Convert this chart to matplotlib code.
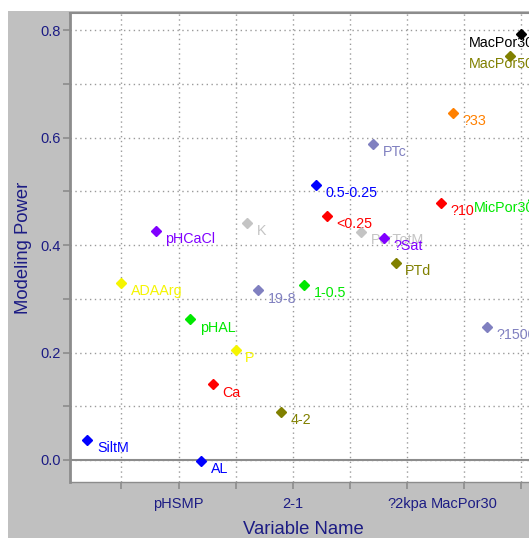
import matplotlib
matplotlib.use("Agg")
import matplotlib.pyplot as plt
from matplotlib.patches import Rectangle

plt.rcParams['font.family'] = ['Liberation Sans', 'DejaVu Sans']

# ---- data ----
names = ["SiltM", "ADAArg", "pHCaCl", "pHAL", "AL", "Ca", "P", "K", "19-8", "4-2",
         "1-0.5", "0.5-0.25", "<0.25", "PorTotM", "PTc", "?Sat", "PTd", "?10", "?33",
         "?1500", "MacPor50", "MacPor30", "MicPor30"]
var_index = [2, 5, 8, 11, 12, 13, 15, 16, 17, 19, 21, 22, 23, 26, 27, 28, 29, 33, 34,
             37, 39, 40, 41]
power = [0.037, 0.330, 0.427, 0.262, -0.001, 0.141, 0.205, 0.441, 0.316, 0.090,
         0.326, 0.512, 0.455, 0.425, 0.588, 0.414, 0.367, 0.479, 0.646,
         0.248, 0.752, 0.792, 0.484]
colors = ["#0000FF", "#F5F500", "#8000FF", "#00E800", "#0000FF", "#FF0000", "#F5F500",
          "#C4C4C4", "#8080C0", "#808000", "#00E800", "#0000FF", "#FF0000", "#C4C4C4",
          "#8080C0", "#8000FF", "#808000", "#FF0000", "#FF8000", "#8080C0", "#808000",
          "#000000", "#00E800"]
xtick_pos = [5, 10, 15, 20, 25, 30, 35, 40]
xtick_labels = ["", "pHSMP", "", "2-1", "", "?2kpa", "MacPor30", ""]
ytick_pos = [0.0, 0.1, 0.2, 0.3, 0.4, 0.5, 0.6, 0.7, 0.8]
ytick_labels = ["0.0", "", "0.2", "", "0.4", "", "0.6", "", "0.8"]
clamped = {"MacPor50", "MacPor30", "MicPor30"}

W, H = 529, 538
fig = plt.figure(figsize=(W / 100, H / 100), dpi=100, facecolor="white")
bg = Rectangle((8 / W, 0), 1, (H - 11) / H, transform=fig.transFigure,
               facecolor="#C0C0C0", edgecolor="none", zorder=-10)
fig.patches.append(bg)

ax = fig.add_axes([70 / W, 56 / H, (536 - 70) / W, (482 - 13) / H])
ax.set_zorder(1)
ax.set_facecolor("white")
ax.set_xlim(0.5, 41.3)
ax.set_ylim(-0.041, 0.832)

navy = "#1c1c84"
grid_c = "#9a9a9a"
for s in ["left", "top", "bottom", "right"]:
    ax.spines[s].set_color("#8c8c8c")
ax.spines["left"].set_linewidth(2)
ax.spines["top"].set_linewidth(1.5)
ax.spines["bottom"].set_linewidth(1)

ax.set_xticks(xtick_pos)
ax.set_xticklabels(xtick_labels)
ax.set_yticks(ytick_pos)
ax.set_yticklabels(ytick_labels)
ax.tick_params(axis="both", colors="#8c8c8c", labelcolor=navy, labelsize=10.5,
               length=5, width=1.2)
ax.tick_params(axis="y", pad=1.5)
ax.tick_params(axis="x", pad=6)
ax.grid(True, color=grid_c, linestyle=(0, (1, 2.5)), linewidth=1)
ax.axhline(0, color="#8c8c8c", linewidth=1.5, zorder=2)

ax.set_xlabel("Variable Name", fontsize=13.3, color=navy, labelpad=7)
ax.set_ylabel("Modeling Power", fontsize=13.3, color=navy, labelpad=6)

for i, (n, x, y, c) in enumerate(zip(names, var_index, power, colors)):
    z = 3 + i * 0.01
    ax.plot([x], [y], marker="D", markersize=5.6, color=c, linestyle="none",
            zorder=z, clip_on=False)
    if n in clamped:
        ax.annotate(n, xy=(1.0, y), xycoords=("axes fraction", "data"),
                    xytext=(-1.5, -6), textcoords="offset points",
                    ha="right", va="center", color=c, fontsize=10.3, zorder=z)
    else:
        ax.annotate(n, xy=(x, y), xytext=(7, -6), textcoords="offset points",
                    ha="left", va="center", color=c, fontsize=10.3, zorder=z)

fig.savefig("out.png", dpi=100, facecolor="white")
